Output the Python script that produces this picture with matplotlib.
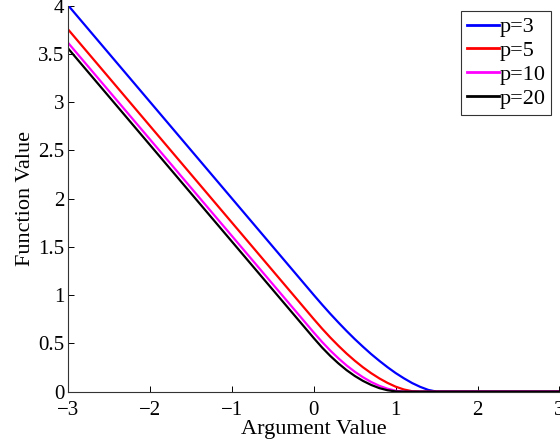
import matplotlib
matplotlib.use("Agg")
import matplotlib.pyplot as plt

plt.rcParams['font.family'] = ['Liberation Serif', 'DejaVu Serif']
plt.rcParams['mathtext.fontset'] = 'stix'

x = [-3.0, 0.0, 0.1, 0.2, 0.3, 0.4, 0.5, 0.6, 0.7, 0.8, 0.9, 1.0,
     1.1, 1.2, 1.3, 1.4, 1.5, 1.6, 2.0, 3.0]
y_p3 = [4.000, 1.000, 0.902, 0.807, 0.716, 0.628, 0.544, 0.465, 0.389, 0.319,
        0.253, 0.192, 0.138, 0.089, 0.049, 0.017, 0.000, 0.000, 0.000, 0.000]
y_p5 = [3.750, 0.750, 0.653, 0.561, 0.475, 0.394, 0.320, 0.252, 0.191, 0.137,
        0.090, 0.051, 0.022, 0.004, 0.000, 0.000, 0.000, 0.000, 0.000, 0.000]
y_p10 = [3.611, 0.611, 0.515, 0.426, 0.345, 0.271, 0.206, 0.149, 0.100, 0.060,
         0.030, 0.009, 0.000, 0.000, 0.000, 0.000, 0.000, 0.000, 0.000, 0.000]
y_p20 = [3.553, 0.553, 0.457, 0.370, 0.292, 0.222, 0.162, 0.111, 0.069, 0.036,
         0.014, 0.002, 0.000, 0.000, 0.000, 0.000, 0.000, 0.000, 0.000, 0.000]
labels = ['p=3', 'p=5', 'p=10', 'p=20']
colors = ['#0000ff', '#ff0000', '#ff00ff', '#000000']
xticks = [-3, -2, -1, 0, 1, 2, 3]
yticks = [0, 0.5, 1, 1.5, 2, 2.5, 3, 3.5, 4]
yticklabels = ['0', '0.5', '1', '1.5', '2', '2.5', '3', '3.5', '4']

fig = plt.figure(figsize=(5.6, 4.44), dpi=100)
ax = fig.add_axes([0.1223, 0.118, 0.8765, 0.869])

for ys, lab, c in zip([y_p3, y_p5, y_p10, y_p20], labels, colors):
    ax.plot(x, ys, color=c, lw=1.6, label=lab)

ax.set_xlim(-3, 3)
ax.set_ylim(0, 4)
ax.set_xticks(xticks)
ax.set_xticklabels(['\u22123', '\u22122', '\u22121', '0', '1', '2', '3'])
ax.set_yticks(yticks)
ax.set_yticklabels(yticklabels)
ax.tick_params(direction='in', length=4, width=0.7, labelsize=15)
ax.tick_params(axis='x', pad=7)
ax.tick_params(axis='y', pad=3)
for s in ['top', 'right']:
    ax.spines[s].set_visible(False)
for s in ['left', 'bottom']:
    ax.spines[s].set_linewidth(0.8)
    ax.spines[s].set_color('#333333')

ax.set_xlabel('Argument Value', fontsize=16, labelpad=0)
ax.set_ylabel('Function Value', fontsize=16, labelpad=2)

leg = ax.legend(loc='upper right', bbox_to_anchor=(0.9835, 0.986), fontsize=16,
                frameon=True, fancybox=False, edgecolor='black',
                handlelength=1.44, handletextpad=0.05, borderpad=0.25,
                labelspacing=0.15, borderaxespad=0.0)
leg.get_frame().set_linewidth(0.8)
for ln in leg.get_lines():
    ln.set_linewidth(2)

fig.savefig('out.png', dpi=100)
